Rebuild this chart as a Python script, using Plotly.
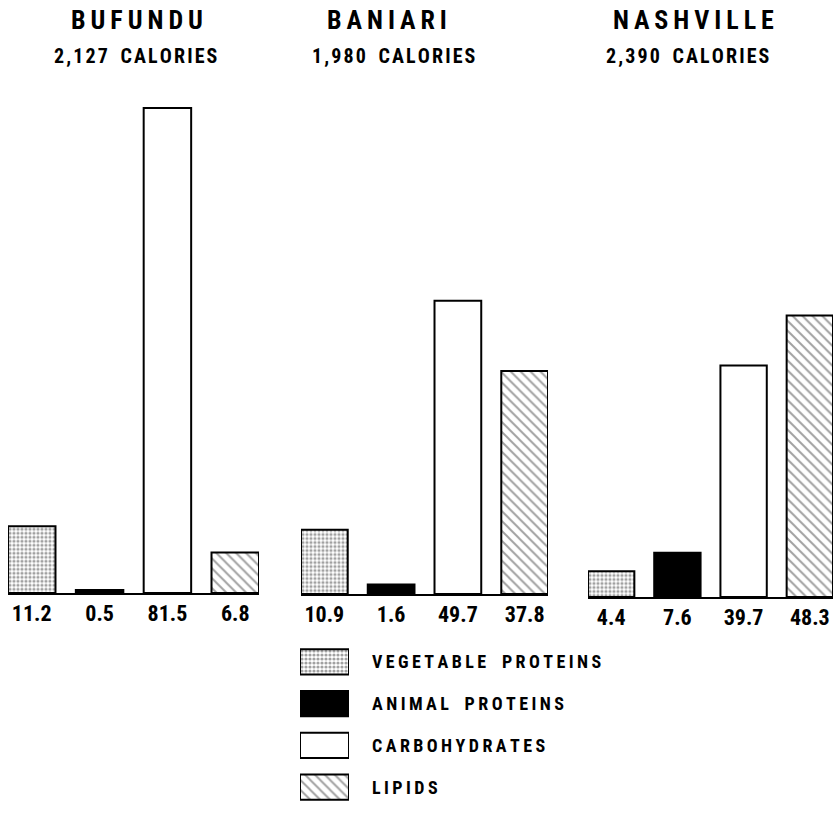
import plotly.graph_objects as go

W, H = 833, 838

nutrients = ["VEGETABLE PROTEINS", "ANIMAL PROTEINS", "CARBOHYDRATES", "LIPIDS"]
places = ["BUFUNDU", "BANIARI", "NASHVILLE"]
calories = ["2,127 CALORIES", "1,980 CALORIES", "2,390 CALORIES"]
bufundu = [11.2, 0.5, 81.5, 6.8]
baniari = [10.9, 1.6, 49.7, 37.8]
nashville = [4.4, 7.6, 39.7, 48.3]
series = [bufundu, baniari, nashville]

FONT = "Liberation Sans Narrow, Roboto Condensed, DejaVu Sans Condensed, Arial Narrow, sans-serif"

fill_color = ["white", "black", "white", "white"]
pat_shape = [".", "", "", "\\"]
pat_size = [4, 8, 8, 7]
pat_solid = [0.5, 0.2, 0.2, 0.28]

fig = go.Figure()

# pixel layout (left, right, baseline y, px per unit)
groups_px = [(8, 259, 593, 5.95), (301, 548, 594, 5.9), (588, 833, 597, 5.83)]
title_x = [137, 387, 693]
title2_x = [136, 394, 688]
YMAX = 85


def spaced(s, sep="\u2009", wsep="\u2003"):
    return wsep.join(sep.join(w) for w in s.split(" "))


for i, (vals, (l, r, base, ppu)) in enumerate(zip(series, groups_px)):
    n = i + 1
    xa = "x" if n == 1 else f"x{n}"
    ya = "y" if n == 1 else f"y{n}"
    fig.add_trace(go.Bar(
        x=nutrients, y=vals, xaxis=xa, yaxis=ya,
        marker=dict(
            color=fill_color,
            line=dict(color="black", width=2),
            pattern=dict(shape=pat_shape, fgcolor="black", bgcolor=fill_color,
                         size=pat_size, solidity=pat_solid),
        ),
        showlegend=False, hoverinfo="skip",
    ))
    top = base - YMAX * ppu
    key = "xaxis" if n == 1 else f"xaxis{n}"
    ykey = "yaxis" if n == 1 else f"yaxis{n}"
    fig.layout[key] = dict(
        domain=[l / W, min(r / W, 1.0)], range=[-0.35, 3.35],
        anchor=ya, showline=True, linecolor="black", linewidth=2,
        showgrid=False, zeroline=False, ticks="",
        tickmode="array", tickvals=nutrients, ticktext=[f"{v:.1f}" for v in vals],
        tickfont=dict(family=FONT, size=22, color="black", weight="bold"),
        fixedrange=True,
    )
    fig.layout[ykey] = dict(
        domain=[(H - base) / H, (H - top) / H], range=[0, YMAX],
        anchor=xa, visible=False, showgrid=False, fixedrange=True,
    )
    fig.add_annotation(text=spaced(places[i]), x=title_x[i] / W, y=1 - 20 / H,
                       xref="paper", yref="paper", showarrow=False,
                       xanchor="center", yanchor="middle",
                       font=dict(family=FONT, size=26, color="black", weight="bold"))
    fig.add_annotation(text=spaced(calories[i], sep="\u200a", wsep="\u2002\u2009"),
                       x=title2_x[i] / W, y=1 - 56 / H,
                       xref="paper", yref="paper", showarrow=False,
                       xanchor="center", yanchor="middle",
                       font=dict(family=FONT, size=20, color="black", weight="bold"))

# legend drawn as a small horizontal bar panel
leg_ones = [1, 1, 1, 1]
fig.add_trace(go.Bar(
    y=nutrients, x=leg_ones, orientation="h", xaxis="x4", yaxis="y4", width=0.6,
    marker=dict(
        color=fill_color,
        line=dict(color="black", width=2),
        pattern=dict(shape=pat_shape, fgcolor="black", bgcolor=fill_color,
                     size=pat_size, solidity=pat_solid),
    ),
    showlegend=False, hoverinfo="skip",
))
fig.layout["xaxis4"] = dict(domain=[300 / W, 349 / W], range=[0, 1.0], visible=False,
                            anchor="y4", fixedrange=True)
fig.layout["yaxis4"] = dict(domain=[(H - 808) / H, (H - 641) / H], range=[3.5, -0.5],
                            visible=False, anchor="x4", fixedrange=True)
for k, name in enumerate(nutrients):
    fig.add_annotation(text=spaced(name), x=370 / W, y=k, xref="paper", yref="y4",
                       xanchor="left", yanchor="middle", showarrow=False,
                       font=dict(family=FONT, size=18, color="black", weight="bold"))

fig.update_layout(
    width=W, height=H, margin=dict(l=0, r=0, t=0, b=0),
    paper_bgcolor="white", plot_bgcolor="white", bargap=0.3,
)

fig.write_html(
    "out.html",
    config={"displayModeBar": False, "staticPlot": True},
    post_script="document.body.style.margin='0';document.body.style.overflow='hidden';",
)
